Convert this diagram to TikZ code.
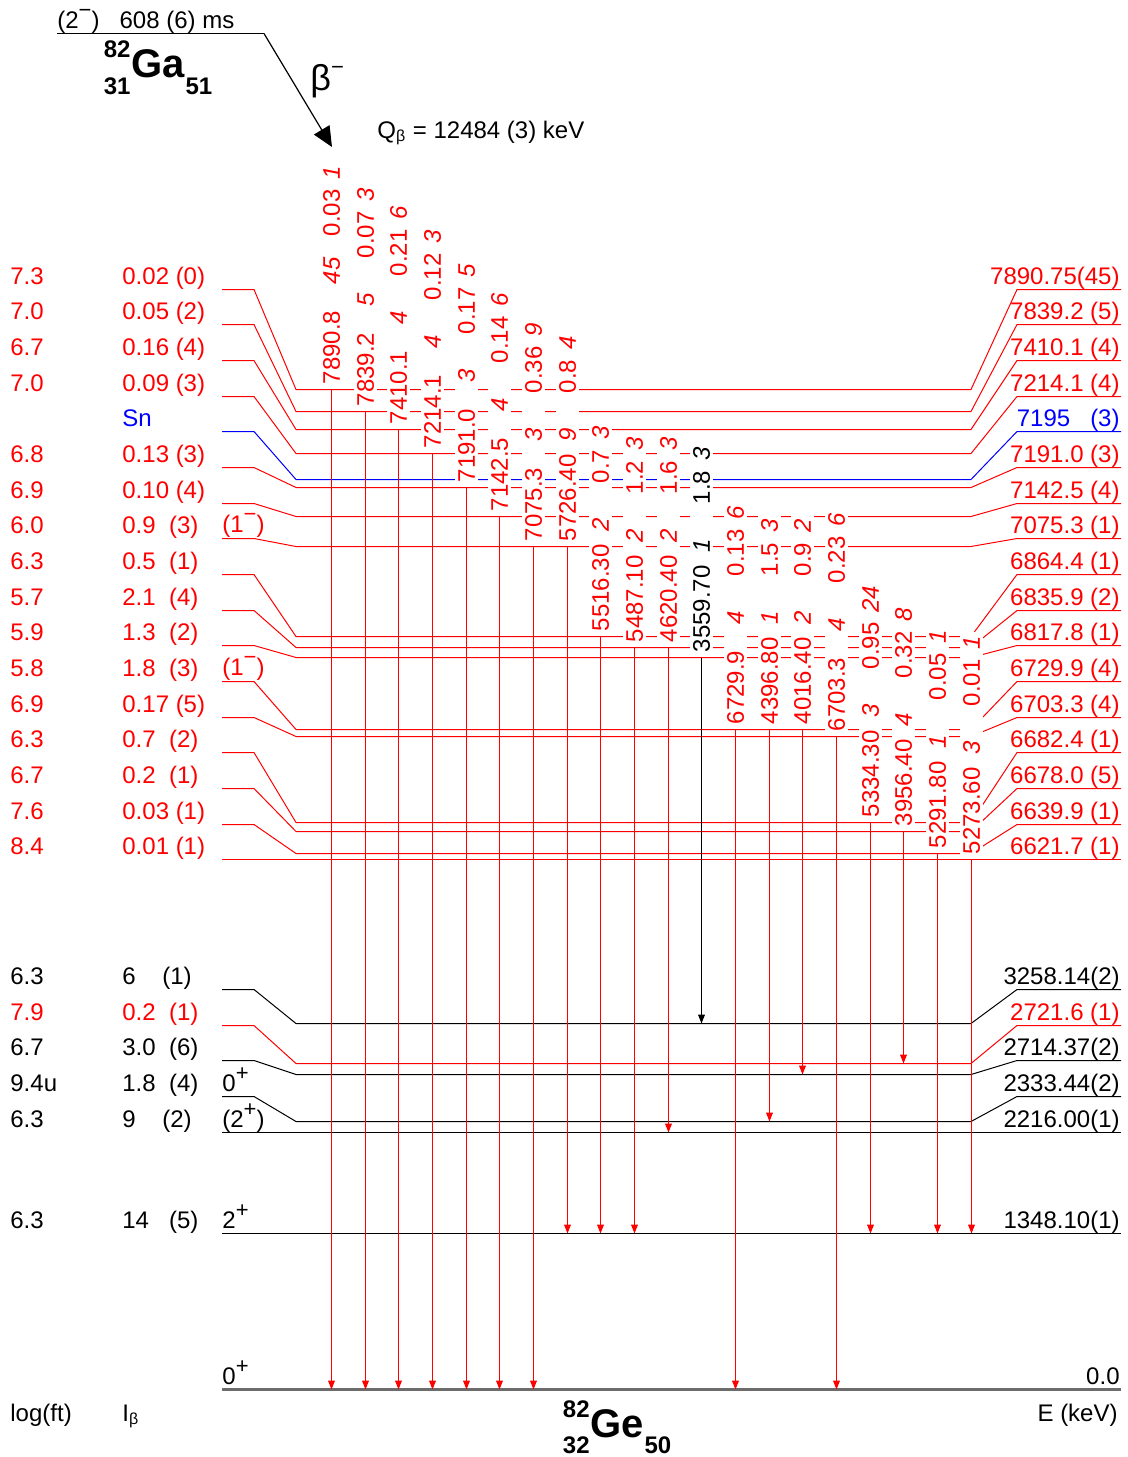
\documentclass[tikz,border=0pt]{standalone}
\usepackage{fontspec}
\setmainfont{Liberation Sans}
\usetikzlibrary{arrows.meta, calc}

% raised spin/parity sign
\newcommand{\parsign}[1]{\raisebox{0.42em}{\fontsize{11}{12}\selectfont #1}}

\begin{document}
\begin{tikzpicture}[
  x=0.5pt, y=-0.5pt,
  font=\fontsize{12}{14}\selectfont,
  lev/.style={line width=0.5pt},
  ground/.style={line width=1.3pt, draw=gray!85!black},
  gam/.style={line width=0.55pt, -{Triangle[length=4.5pt, width=3.4pt]}},
  betaarr/.style={line width=0.6pt, -{Triangle[length=10pt, width=9pt]}},
  glab/.style={rotate=90, anchor=west, fill=white, inner xsep=2pt, inner ysep=1.5pt},
  lab/.style={anchor=base west, inner sep=0pt},
  rlab/.style={anchor=base east, inner sep=0pt},
  nuc/.style={inner sep=0pt, font=\fontsize{20}{24}\selectfont\bfseries},
  nucnum/.style={inner sep=0pt, font=\fontsize{12}{14}\selectfont\bfseries}
]
\useasboundingbox (0,0) rectangle (1128,1457);

% parent 82Ga
\coordinate (gaL) at (57,33.5);
\coordinate (gaR) at (264,33.5);
\coordinate (btip) at (332,147);
\draw[lev] (gaL) -- (gaR);
\node[lab] (gahl) at (57,28) {(2\parsign{−})\ \ \ 608 (6) ms};
\node[nuc, anchor=base west] (ga) at (131,77) {Ga};
\node[nucnum, anchor=base east] (gaA) at ([yshift=10pt]ga.base west) {82};
\node[nucnum, anchor=base east] (gaZ) at ([yshift=-8.5pt]ga.base west) {31};
\node[nucnum, anchor=base west] (gaN) at ([yshift=-8.5pt]ga.base east) {51};
\draw[betaarr] (gaR) -- (btip);
\node[lab, font=\fontsize{18}{20}\selectfont] (beta) at (310,90) {β\parsign{−}};
\node[lab] (qbeta) at (377,138) {Q\textsubscript{β} = 12484 (3) keV};

% levels in 82Ge
\foreach \ly/\lv/\col in {289/389/red, 324/411/red, 360/429/red, 396/453/red,
    431/479/blue, 467/487/red, 503/516/red, 538/546/red, 574/636/red, 610/647/red,
    645/657/red, 681/729/red, 717/736/red, 752/822/red, 788/831/red, 824/853/red,
    859/859/red, 989/1023/black, 1025/1063/red, 1060/1074/black, 1096/1121/black,
    1132/1132/black, 1233/1233/black}
  \draw[lev, \col] (222,\ly+0.5) -- (254,\ly+0.5) -- (296,\lv+0.5) -- (971,\lv+0.5)
    -- (1017,\ly+0.5) -- (1121,\ly+0.5);
\draw[ground] (222,1389.5) -- (1121,1389.5);

% log(ft) and feeding columns
\foreach \ly/\lf/\ib/\col [count=\k] in {289/7.3/0.02 (0)/red, 324/7.0/0.05 (2)/red,
    360/6.7/0.16 (4)/red, 396/7.0/0.09 (3)/red, 431//Sn/blue, 467/6.8/0.13 (3)/red,
    503/6.9/0.10 (4)/red, 538/6.0/{0.9\ \ (3)}/red, 574/6.3/{0.5\ \ (1)}/red,
    610/5.7/{2.1\ \ (4)}/red, 645/5.9/{1.3\ \ (2)}/red, 681/5.8/{1.8\ \ (3)}/red,
    717/6.9/0.17 (5)/red, 752/6.3/{0.7\ \ (2)}/red, 788/6.7/{0.2\ \ (1)}/red,
    824/7.6/0.03 (1)/red, 859/8.4/0.01 (1)/red, 989/6.3/{6\ \ \ \ (1)}/black,
    1025/7.9/{0.2\ \ (1)}/red, 1060/6.7/{3.0\ \ (6)}/black, 1096/9.4u/{1.8\ \ (4)}/black,
    1132/6.3/{9\ \ \ \ (2)}/black, 1233/6.3/{14\ \ \ (5)}/black}
{
  \node[lab, text=\col] (lf\k) at (10,\ly-5) {\lf};
  \node[lab, text=\col] (ib\k) at (122,\ly-5) {\ib};
}

% level energies
\foreach \ly/\en/\col [count=\k] in {289/7890.75(45)/red, 324/7839.2 (5)/red,
    360/7410.1 (4)/red, 396/7214.1 (4)/red, 431/{7195\ \ \ (3)}/blue, 467/7191.0 (3)/red,
    503/7142.5 (4)/red, 538/7075.3 (1)/red, 574/6864.4 (1)/red, 610/6835.9 (2)/red,
    645/6817.8 (1)/red, 681/6729.9 (4)/red, 717/6703.3 (4)/red, 752/6682.4 (1)/red,
    788/6678.0 (5)/red, 824/6639.9 (1)/red, 859/6621.7 (1)/red, 989/3258.14(2)/black,
    1025/2721.6 (1)/red, 1060/2714.37(2)/black, 1096/2333.44(2)/black,
    1132/2216.00(1)/black, 1233/1348.10(1)/black, 1389/0.0/black}
  \node[rlab, text=\col] (en\k) at (1120,\ly-5) {\en};

% spins
\node[lab, text=red] (jp1) at (222,532) {(1\parsign{−})};
\node[lab, text=red] (jp2) at (222,675) {(1\parsign{−})};
\node[lab] (jp3) at (222,1091) {0\parsign{+}};
\node[lab] (jp4) at (222,1127) {(2\parsign{+})};
\node[lab] (jp5) at (222,1228) {2\parsign{+}};
\node[lab] (jp6) at (222,1384) {0\parsign{+}};

% gamma rays: E, dE, I, dI
\foreach \i/\ys/\ye/\eg/\de/\ig/\di/\col in {
    0/389/1389/7890.8/45/0.03/1/red, 1/411/1389/7839.2/5/0.07/3/red,
    2/429/1389/7410.1/4/0.21/6/red, 3/453/1389/7214.1/4/0.12/3/red,
    4/487/1389/7191.0/3/0.17/5/red, 5/516/1389/7142.5/4/0.14/6/red,
    6/546/1389/7075.3/3/0.36/9/red, 7/546/1233/5726.40/9/0.8/4/red,
    8/636/1233/5516.30/2/0.7/3/red, 9/647/1233/5487.10/2/1.2/3/red,
    10/647/1132/4620.40/2/1.6/3/red, 11/657/1023/3559.70/1/1.8/3/black,
    12/729/1389/6729.9/4/0.13/6/red, 13/729/1121/4396.80/1/1.5/3/red,
    14/729/1074/4016.40/2/0.9/2/red, 15/736/1389/6703.3/4/0.23/6/red,
    16/822/1233/5334.30/3/0.95/24/red, 17/831/1063/3956.40/4/0.32/8/red,
    18/853/1233/5291.80/1/0.05/1/red, 19/859/1233/5273.60/3/0.01/1/red}
{
  \coordinate (gs\i) at ({int(331.7+33.65*\i)+0.5},\ys+0.5);
  \coordinate (ge\i) at ({int(331.7+33.65*\i)+0.5},\ye+0.5);
  \node[glab, text=\col] (gl\i) at ([yshift=0.4pt]gs\i)
    {\makebox[50pt][l]{\eg}\makebox[24pt][l]{\textit{\de}}\ig\hspace{5pt}\textit{\di}};
  \draw[gam, \col] (gs\i) -- (ge\i);
}

% daughter 82Ge and footer
\node[nuc, anchor=base west] (ge) at (590,1437) {Ge};
\node[nucnum, anchor=base east] (geA) at ([yshift=10pt]ge.base west) {82};
\node[nucnum, anchor=base east] (geZ) at ([yshift=-8pt]ge.base west) {32};
\node[nucnum, anchor=base west] (geN) at ([yshift=-8pt]ge.base east) {50};
\node[lab] (logft) at (10,1421) {log(ft)};
\node[lab] (ibeta) at (122,1421) {I\textsubscript{β}};
\node[rlab] (ekev) at (1118,1421) {E (keV)};

\end{tikzpicture}
\end{document}
